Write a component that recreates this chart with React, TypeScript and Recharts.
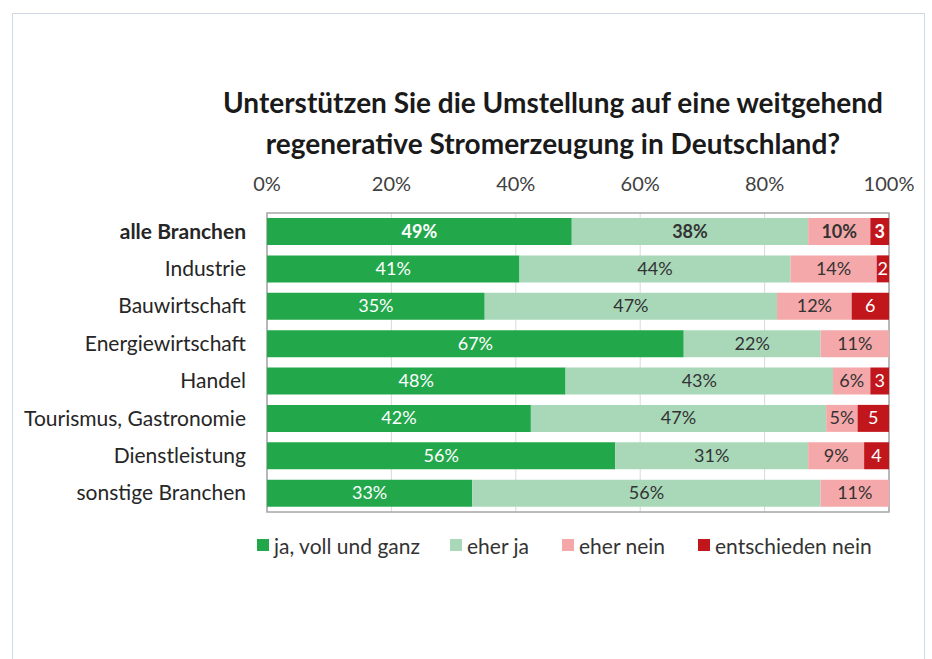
import React from "react";
import {
  BarChart,
  Bar,
  XAxis,
  YAxis,
  CartesianGrid,
  LabelList,
  ReferenceArea,
} from "recharts";

const categories = [
  "alle Branchen",
  "Industrie",
  "Bauwirtschaft",
  "Energiewirtschaft",
  "Handel",
  "Tourismus, Gastronomie",
  "Dienstleistung",
  "sonstige Branchen",
];
const jaVoll = [49, 41, 35, 67, 48, 42, 56, 33];
const eherJa = [38, 44, 47, 22, 43, 47, 31, 56];
const eherNein = [10, 14, 12, 11, 6, 5, 9, 11];
const entschiedenNein = [3, 2, 6, 0, 3, 5, 4, 0];

const seriesNames = ["ja, voll und ganz", "eher ja", "eher nein", "entschieden nein"];
const seriesColors = ["#22a84b", "#a9d8b9", "#f5a8a9", "#c2161d"];
const xTicks = [0, 0.2, 0.4, 0.6, 0.8, 1];
const titleLines = [
  "Unterstützen Sie die Umstellung auf eine weitgehend",
  "regenerative Stromerzeugung in Deutschland?",
];

const data = categories.map((c, i) => ({
  cat: c,
  s0: jaVoll[i],
  s1: eherJa[i],
  s2: eherNein[i],
  s3: entschiedenNein[i],
}));

const FONT = "Lato, 'Open Sans', sans-serif";

const CatTick = (props: any) => {
  const { x, y, payload } = props;
  const bold = payload.value === categories[0];
  return (
    <text
      x={x}
      y={y}
      dy={7}
      textAnchor="end"
      fontFamily={FONT}
      fontSize={21}
      fontWeight={bold ? 700 : 400}
      fill="#262626"
    >
      {payload.value}
    </text>
  );
};

const makeLabel = (color: string, withPct: boolean) => (props: any) => {
  const { x, y, width, height, value, index } = props;
  if (!value) return null;
  const bold = index === 0;
  return (
    <text
      x={x + width / 2}
      y={y + height / 2}
      dy={6}
      textAnchor="middle"
      fontFamily={FONT}
      fontSize={18}
      fontWeight={bold ? 700 : 400}
      fill={color}
    >
      {withPct ? `${value}%` : `${value}`}
    </text>
  );
};

const labelColors = ["#ffffff", "#333333", "#333333", "#ffffff"];
const legendX = [257, 450, 562, 698];

export default function App() {
  return (
    <div
      style={{
        position: "absolute",
        left: 0,
        top: 0,
        width: 932,
        height: 659,
        background: "#ffffff",
        overflow: "hidden",
      }}
    >
      <div
        style={{
          position: "absolute",
          left: 12,
          top: 13,
          width: 913,
          height: 700,
          border: "1px solid #cfd9e4",
          boxSizing: "border-box",
        }}
      />
      <div
        style={{
          position: "absolute",
          left: 0,
          top: 82,
          width: 932,
          paddingLeft: 174,
          boxSizing: "border-box",
          textAlign: "center",
          fontFamily: FONT,
          fontWeight: 700,
          fontSize: 28,
          lineHeight: "41px",
          color: "#1a1a1a",
          whiteSpace: "nowrap",
        }}
      >
        {titleLines.map((t) => (
          <div key={t}>{t}</div>
        ))}
      </div>
      <div style={{ position: "absolute", left: 0, top: 0 }}>
        <BarChart
          width={932}
          height={659}
          data={data}
          layout="vertical"
          stackOffset="expand"
          margin={{ top: 183, right: 43, bottom: 147, left: 12 }}
        >
          <CartesianGrid horizontal={false} stroke="#d9d9d9" />
          <XAxis
            type="number"
            orientation="top"
            domain={[0, 1]}
            ticks={xTicks}
            tickFormatter={(v: number) => `${Math.round(v * 100)}%`}
            axisLine={false}
            tickLine={false}
            tickSize={0}
            tickMargin={22}
            height={30}
            tick={{ fontFamily: FONT, fontSize: 20, fill: "#404040" }}
          />
          <YAxis
            type="category"
            dataKey="cat"
            width={255}
            axisLine={false}
            tickLine={false}
            tickSize={0}
            tickMargin={21}
            interval={0}
            tick={<CatTick />}
          />
          {[0, 1, 2, 3].map((k) => (
            <Bar
              key={k}
              dataKey={`s${k}`}
              name={seriesNames[k]}
              stackId="a"
              fill={seriesColors[k]}
              barSize={27}
              isAnimationActive={false}
            >
              <LabelList
                dataKey={`s${k}`}
                content={makeLabel(labelColors[k], k < 3)}
              />
            </Bar>
          ))}
          <ReferenceArea x1={0} x2={1} fill="none" stroke="#a6a6a6" strokeWidth={1.5} ifOverflow="visible" />
        </BarChart>
      </div>
      {seriesNames.map((n, i) => (
        <div
          key={n}
          style={{
            position: "absolute",
            left: legendX[i],
            top: 532,
            height: 26,
            display: "flex",
            alignItems: "center",
            fontFamily: FONT,
            fontSize: 21,
            color: "#333333",
            whiteSpace: "nowrap",
          }}
        >
          <span
            style={{
              display: "inline-block",
              width: 12,
              height: 12,
              background: seriesColors[i],
              marginRight: 5,
            }}
          />
          <span>{n}</span>
        </div>
      ))}
    </div>
  );
}
